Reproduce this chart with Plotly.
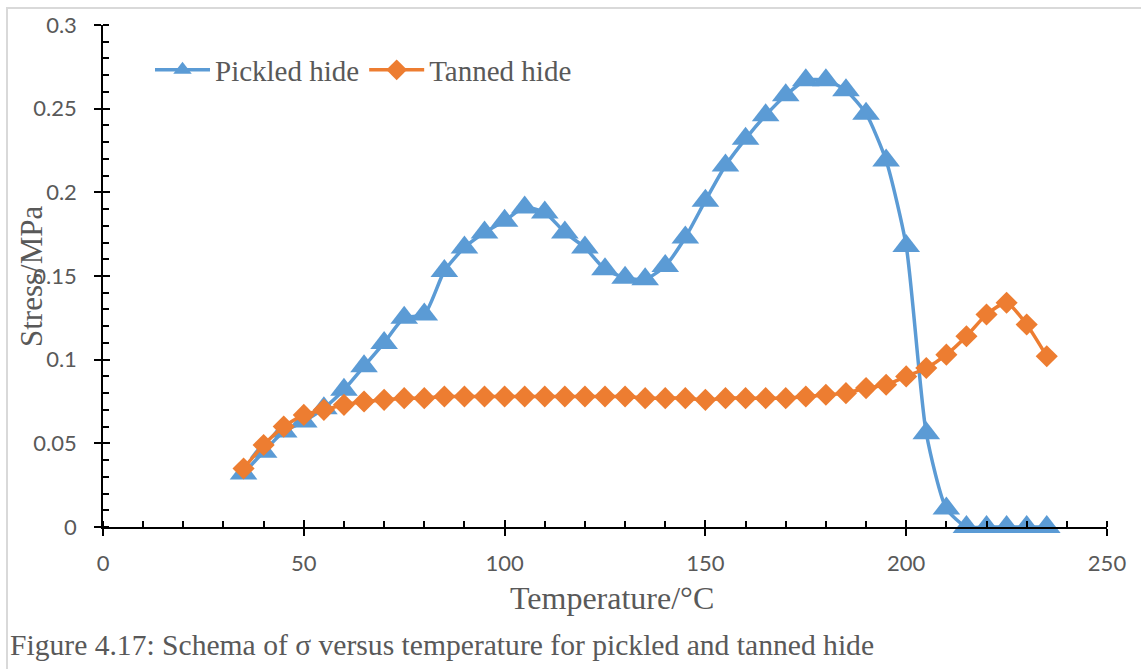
import plotly.graph_objects as go

temperature = [35, 40, 45, 50, 55, 60, 65, 70, 75, 80, 85, 90, 95, 100, 105, 110, 115, 120,
               125, 130, 135, 140, 145, 150, 155, 160, 165, 170, 175, 180, 185, 190, 195,
               200, 205, 210, 215, 220, 225, 230, 235]

pickled_hide = [0.032, 0.045, 0.057, 0.063, 0.071, 0.082, 0.096, 0.110, 0.125, 0.127,
                0.153, 0.167, 0.176, 0.183, 0.191, 0.188, 0.176, 0.167, 0.154, 0.149,
                0.148, 0.156, 0.173, 0.195, 0.216, 0.232, 0.246, 0.258, 0.267, 0.267,
                0.261, 0.247, 0.219, 0.168, 0.056, 0.011, 0.0, 0.0, 0.0, 0.0, 0.0]

tanned_hide = [0.035, 0.049, 0.060, 0.067, 0.070, 0.073, 0.075, 0.076, 0.077, 0.077,
               0.078, 0.078, 0.078, 0.078, 0.078, 0.078, 0.078, 0.078, 0.078, 0.078,
               0.077, 0.077, 0.077, 0.076, 0.077, 0.077, 0.077, 0.077, 0.078, 0.079,
               0.080, 0.083, 0.085, 0.090, 0.095, 0.103, 0.114, 0.127, 0.134, 0.121, 0.102]

x_ticks = [0, 50, 100, 150, 200, 250]
y_ticks = [0, 0.05, 0.1, 0.15, 0.2, 0.25, 0.3]
y_tick_text = ["0", "0.05", "0.1", "0.15", "0.2", "0.25", "0.3"]

BLUE = "#5B9BD5"
ORANGE = "#ED7D31"
GRAY = "#595959"
SERIF = "Liberation Serif, Times New Roman, serif"
SANS = "Lato, Open Sans, sans-serif"

W, H = 1141, 669
L, R, T, B = 103, 34, 25, 142
PW, PH = W - L - R, H - T - B

fig = go.Figure()
fig.add_trace(go.Scatter(
    x=temperature, y=pickled_hide, name="Pickled hide", mode="lines+markers",
    line=dict(color=BLUE, width=3.5, shape="spline", smoothing=0.6),
    marker=dict(symbol="triangle-up", size=24, color=BLUE),
    cliponaxis=False,
))
fig.add_trace(go.Scatter(
    x=temperature, y=tanned_hide, name="Tanned hide", mode="lines+markers",
    line=dict(color=ORANGE, width=3.5, shape="spline", smoothing=0.6),
    marker=dict(symbol="diamond", size=17, color=ORANGE),
    cliponaxis=False,
))
# empty helper trace so the overlay axes (inner half of crossing ticks) render
fig.add_trace(go.Scatter(x=[], y=[], xaxis="x2", yaxis="y2", showlegend=False, hoverinfo="skip"))

fig.update_layout(
    width=W, height=H,
    margin=dict(l=L, r=R, t=T, b=B),
    paper_bgcolor="white", plot_bgcolor="white",
    showlegend=True,
    legend=dict(
        orientation="h", x=(150 - L) / PW, y=1 - (70 - T) / PH,
        xanchor="left", yanchor="middle",
        font=dict(family=SERIF, size=29, color=GRAY),
        bgcolor="rgba(0,0,0,0)", itemwidth=55, tracegroupgap=0,
    ),
    xaxis=dict(
        range=[0, 250], tickvals=x_ticks, ticktext=[str(v) for v in x_ticks],
        showgrid=False, zeroline=False, showline=True, linecolor="black", linewidth=1.5,
        ticks="outside", ticklen=7, tickwidth=1.5, tickcolor="black",
        minor=dict(dtick=10, ticks="inside", ticklen=6, tickwidth=1.5, tickcolor="black", showgrid=False),
        tickfont=dict(family=SANS, size=22, color=GRAY), ticklabelstandoff=9,
    ),
    yaxis=dict(
        range=[0, 0.3], tickvals=y_ticks, ticktext=y_tick_text,
        showgrid=False, zeroline=False, showline=True, linecolor="black", linewidth=1.5,
        ticks="outside", ticklen=7, tickwidth=1.5, tickcolor="black",
        minor=dict(dtick=0.01, ticks="inside", ticklen=6, tickwidth=1.5, tickcolor="black", showgrid=False),
        tickfont=dict(family=SANS, size=22, color=GRAY), ticklabelstandoff=13,
    ),
    xaxis2=dict(
        range=[0, 250], overlaying="x", anchor="y2", side="bottom", tickvals=x_ticks,
        showticklabels=False, showgrid=False, zeroline=False, showline=False,
        ticks="inside", ticklen=7, tickwidth=1.5, tickcolor="black",
    ),
    yaxis2=dict(
        range=[0, 0.3], overlaying="y", anchor="x2", side="left", tickvals=y_ticks,
        showticklabels=False, showgrid=False, zeroline=False, showline=False,
        ticks="inside", ticklen=7, tickwidth=1.5, tickcolor="black",
    ),
    shapes=[dict(
        type="rect", xref="paper", yref="paper",
        x0=(7 - L) / PW, x1=(W + 20 - L) / PW,
        y0=1 - (H + 20 - T) / PH, y1=1 - (8 - T) / PH,
        line=dict(color="#D9D9D9", width=2), fillcolor="rgba(0,0,0,0)", layer="below",
    )],
    annotations=[
        dict(
            text="Temperature/°C",
            xref="paper", yref="paper", x=(612 - L) / PW, y=1 - (598 - T) / PH,
            xanchor="center", yanchor="middle", showarrow=False,
            font=dict(family=SERIF, size=32, color=GRAY),
        ),
        dict(
            text="Stress/MPa", textangle=-90,
            xref="paper", yref="paper", x=(31 - L) / PW, y=1 - (277 - T) / PH,
            xanchor="center", yanchor="middle", showarrow=False,
            font=dict(family=SERIF, size=31, color=GRAY),
        ),
        dict(
            text="Figure 4.17: Schema of σ versus temperature for pickled and tanned hide",
            xref="paper", yref="paper", x=(8 - L) / PW, y=1 - (645 - T) / PH,
            xanchor="left", yanchor="middle", showarrow=False,
            font=dict(family=SERIF, size=29.6, color=GRAY),
        ),
    ],
)

fig.write_html("out.html")
